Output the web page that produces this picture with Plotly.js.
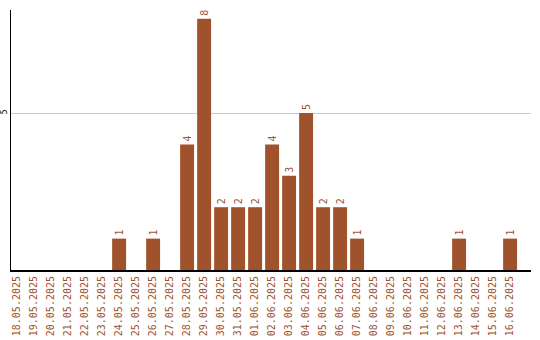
<!DOCTYPE html>
<html><head><meta charset="utf-8">
<script src="https://cdn.plot.ly/plotly-3.0.1.min.js"></script>
<style>body{margin:0;background:#fff}#c{width:540px;height:340px}</style>
</head><body><div id="c"></div>
<script>
const dates = ["18.05.2025","19.05.2025","20.05.2025","21.05.2025","22.05.2025","23.05.2025","24.05.2025","25.05.2025","26.05.2025","27.05.2025","28.05.2025","29.05.2025","30.05.2025","31.05.2025","01.06.2025","02.06.2025","03.06.2025","04.06.2025","05.06.2025","06.06.2025","07.06.2025","08.06.2025","09.06.2025","10.06.2025","11.06.2025","12.06.2025","13.06.2025","14.06.2025","15.06.2025","16.06.2025"];
const counts = [0,0,0,0,0,0,1,0,1,0,4,8,2,2,2,4,3,5,2,2,1,0,0,0,0,0,1,0,0,1];
const yTicks = [5];
const color = "#A0522D";
Plotly.newPlot("c", [{
  type: "bar", x: dates, y: counts,
  marker: {color: color}, width: 0.82,
  text: counts.map(v => v > 0 ? String(v) : ""),
  textposition: "outside", textangle: -90, cliponaxis: false,
  textfont: {family: "DejaVu Sans Mono", size: 10, color: color},
  hoverinfo: "none"
}], {
  width: 540, height: 340,
  margin: {l: 10.5, r: 9, t: 10, b: 70, pad: 0},
  paper_bgcolor: "#fff", plot_bgcolor: "#fff",
  showlegend: false,
  xaxis: {type: "category", range: [-0.36, 30.23], tickangle: -90,
    tickfont: {family: "DejaVu Sans Mono", size: 10, color: color},
    showline: true, linecolor: "#000", linewidth: 2, showgrid: false, ticks: "", zeroline: false, fixedrange: true},
  yaxis: {range: [0, 8.28], tickvals: yTicks, ticktext: yTicks.map(String), tickangle: -90,
    tickfont: {family: "DejaVu Sans Mono", size: 8, color: "#000"},
    showline: true, linecolor: "#000", linewidth: 1, showgrid: true, gridcolor: "#cccccc", gridwidth: 1,
    zeroline: false, ticks: "", fixedrange: true}
}, {displayModeBar: false, staticPlot: true});
</script></body></html>
